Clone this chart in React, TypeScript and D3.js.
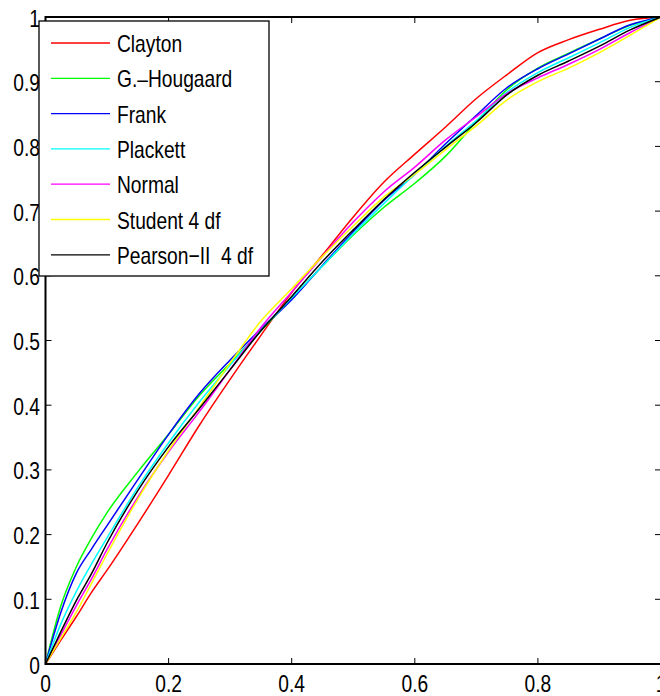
import React from "react";
import * as d3 from "d3";

const xs = [0, 0.025, 0.05, 0.075, 0.1, 0.15, 0.2, 0.25, 0.3, 0.35, 0.4, 0.45, 0.5, 0.55, 0.6, 0.65, 0.7, 0.75, 0.8, 0.85, 0.9, 0.95, 1];

const clayton = [0, 0.037, 0.073, 0.111, 0.145, 0.217, 0.292, 0.369, 0.44, 0.508, 0.574, 0.632, 0.691, 0.745, 0.788, 0.83, 0.874, 0.911, 0.945, 0.965, 0.981, 0.995, 1];
const hougaard = [0, 0.09, 0.15, 0.195, 0.234, 0.297, 0.355, 0.415, 0.465, 0.515, 0.565, 0.615, 0.663, 0.706, 0.743, 0.785, 0.838, 0.888, 0.921, 0.944, 0.966, 0.987, 1];
const frank = [0, 0.08, 0.14, 0.178, 0.214, 0.285, 0.355, 0.418, 0.47, 0.518, 0.563, 0.616, 0.668, 0.717, 0.757, 0.804, 0.848, 0.891, 0.92, 0.943, 0.966, 0.988, 1];
const plackett = [0, 0.062, 0.112, 0.155, 0.195, 0.273, 0.342, 0.405, 0.462, 0.516, 0.566, 0.615, 0.665, 0.712, 0.757, 0.8, 0.84, 0.884, 0.914, 0.937, 0.96, 0.984, 1];
const normal = [0, 0.045, 0.09, 0.132, 0.177, 0.258, 0.328, 0.39, 0.455, 0.52, 0.575, 0.63, 0.683, 0.73, 0.768, 0.81, 0.846, 0.882, 0.906, 0.927, 0.95, 0.976, 1];
const student = [0, 0.04, 0.08, 0.125, 0.17, 0.255, 0.33, 0.397, 0.465, 0.53, 0.58, 0.63, 0.677, 0.722, 0.757, 0.795, 0.832, 0.872, 0.9, 0.921, 0.945, 0.972, 1];
const pearson = [0, 0.05, 0.098, 0.14, 0.187, 0.268, 0.336, 0.395, 0.455, 0.515, 0.568, 0.622, 0.671, 0.718, 0.76, 0.799, 0.837, 0.88, 0.91, 0.932, 0.955, 0.98, 1];

const seriesNames = ["Clayton", "G.\u2013Hougaard", "Frank", "Plackett", "Normal", "Student 4 df", "Pearson\u2212II  4 df"];
const seriesValues = [clayton, hougaard, frank, plackett, normal, student, pearson];
const seriesColors = ["#ff0000", "#00ff00", "#0000ff", "#00ffff", "#ff00ff", "#ffff00", "#000000"];

const xTicks = [0, 0.2, 0.4, 0.6, 0.8, 1];
const yTicks = [0, 0.1, 0.2, 0.3, 0.4, 0.5, 0.6, 0.7, 0.8, 0.9, 1];
const fmt = (v: number) => (v === 0 ? "0" : v === 1 ? "1" : String(v));

export default function App() {
  const W = 660, H = 696;
  const x = d3.scaleLinear().domain([0, 1]).range([45.5, 661]);
  const y = d3.scaleLinear().domain([0, 1]).range([664, 17]);
  const line = d3.line<number>().x((_, i) => x(xs[i])).y((d) => y(d)).curve(d3.curveMonotoneX);
  const font = "'Liberation Sans', Arial, Helvetica, sans-serif";
  const tl = 6;
  const sx = 0.8;
  const legX = 39, legY = 21, legW = 230, legH = 255;
  const rowY = (i: number) => 43 + i * 35.3;

  return (
    <svg width={W} height={H} style={{ position: "absolute", left: 0, top: 0, background: "#fff" }} fontFamily={font}>
      <rect x={0} y={0} width={W} height={H} fill="#fff" />
      {seriesValues.map((vals, i) => (
        <path key={i} d={line(vals) || ""} fill="none" stroke={seriesColors[i]} strokeWidth={1.5} strokeLinejoin="round" />
      ))}
      <rect x={x(0)} y={y(1)} width={x(1) - x(0)} height={y(0) - y(1)} fill="none" stroke="#000" strokeWidth={2} />
      {xTicks.map((t) => (
        <g key={"xt" + t}>
          <line x1={x(t)} x2={x(t)} y1={y(0)} y2={y(0) - tl} stroke="#000" strokeWidth={1} />
          <line x1={x(t)} x2={x(t)} y1={y(1)} y2={y(1) + tl} stroke="#000" strokeWidth={1} />
          <text transform={`translate(${x(t)},${692}) scale(${sx},1)`} textAnchor="middle" fontSize={24} fill="#000">{fmt(t)}</text>
        </g>
      ))}
      {yTicks.map((t) => (
        <g key={"yt" + t}>
          <line x1={x(0)} x2={x(0) + tl} y1={y(t)} y2={y(t)} stroke="#000" strokeWidth={1} />
          <line x1={x(1)} x2={x(1) - tl} y1={y(t)} y2={y(t)} stroke="#000" strokeWidth={1} />
          <text transform={`translate(${40},${y(t) + 9.5}) scale(${sx},1)`} textAnchor="end" fontSize={24} fill="#000">{fmt(t)}</text>
        </g>
      ))}
      <rect x={legX} y={legY} width={legW} height={legH} fill="#fff" stroke="#000" strokeWidth={1.3} />
      {seriesNames.map((n, i) => (
        <g key={"lg" + i}>
          <line x1={51} x2={110} y1={rowY(i)} y2={rowY(i)} stroke={seriesColors[i]} strokeWidth={1.3} />
          <text transform={`translate(117,${rowY(i) + 9}) scale(${sx},1)`} fontSize={24} fill="#000" style={{ whiteSpace: "pre" }}>{n}</text>
        </g>
      ))}
    </svg>
  );
}
